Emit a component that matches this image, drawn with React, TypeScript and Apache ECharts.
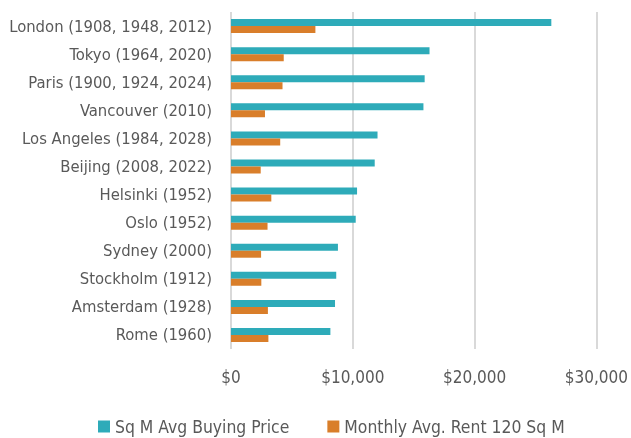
import React, { useEffect, useRef } from "react";
import * as echarts from "echarts";

const categories = [
  "London (1908, 1948, 2012)",
  "Tokyo (1964, 2020)",
  "Paris (1900, 1924, 2024)",
  "Vancouver (2010)",
  "Los Angeles (1984, 2028)",
  "Beijing (2008, 2022)",
  "Helsinki (1952)",
  "Oslo (1952)",
  "Sydney (2000)",
  "Stockholm (1912)",
  "Amsterdam (1928)",
  "Rome (1960)",
];
const buyingPrice = [26300, 16300, 15900, 15800, 12030, 11800, 10350, 10240, 8780, 8640, 8540, 8160];
const monthlyRent = [6930, 4330, 4230, 2790, 4040, 2440, 3310, 3000, 2470, 2490, 3030, 3070];
const seriesNames = ["Sq M Avg Buying Price", "Monthly Avg. Rent 120 Sq M"];
const xTicks = { min: 0, max: 30000, interval: 10000 };

const FONT = "'Liberation Sans Narrow', 'DejaVu Sans Condensed', 'Roboto', sans-serif";

export default function App() {
  const ref = useRef<HTMLDivElement>(null);
  useEffect(() => {
    if (!ref.current) return;
    const chart = echarts.init(ref.current, undefined, { renderer: "svg" });
    chart.setOption({
      animation: false,
      textStyle: { fontFamily: FONT },
      grid: { left: 231, right: 30, top: 12, bottom: 89, containLabel: false },
      legend: {
        top: 413,
        left: 93,
        itemWidth: 12,
        itemHeight: 12,
        itemGap: 38,
        icon: "rect",
        textStyle: { fontFamily: FONT, fontSize: 17.4, color: "#595959" },
        data: seriesNames,
      },
      xAxis: {
        type: "value",
        min: xTicks.min,
        max: xTicks.max,
        interval: xTicks.interval,
        axisLine: { show: false },
        axisTick: { show: false },
        splitLine: { show: true, lineStyle: { color: "#d9d9d9", width: 2 } },
        axisLabel: {
          fontFamily: FONT,
          fontSize: 17,
          color: "#595959",
          margin: 19,
          formatter: (v: number) => "$" + v.toLocaleString("en-US"),
        },
      },
      yAxis: {
        type: "category",
        inverse: true,
        data: categories,
        axisLine: { show: false },
        axisTick: { show: false },
        axisLabel: { fontFamily: FONT, fontSize: 16.5, color: "#595959", margin: 19 },
      },
      series: [
        {
          name: seriesNames[0],
          type: "bar",
          data: buyingPrice,
          barWidth: 7,
          barGap: "0%",
          itemStyle: { color: "#2EABB9" },
        },
        {
          name: seriesNames[1],
          type: "bar",
          data: monthlyRent,
          barWidth: 7,
          barGap: "0%",
          itemStyle: { color: "#D97E2A" },
        },
      ],
    });
    return () => chart.dispose();
  }, []);
  return (
    <div
      ref={ref}
      style={{ position: "fixed", left: 0, top: 0, width: 631, height: 438 }}
    />
  );
}
